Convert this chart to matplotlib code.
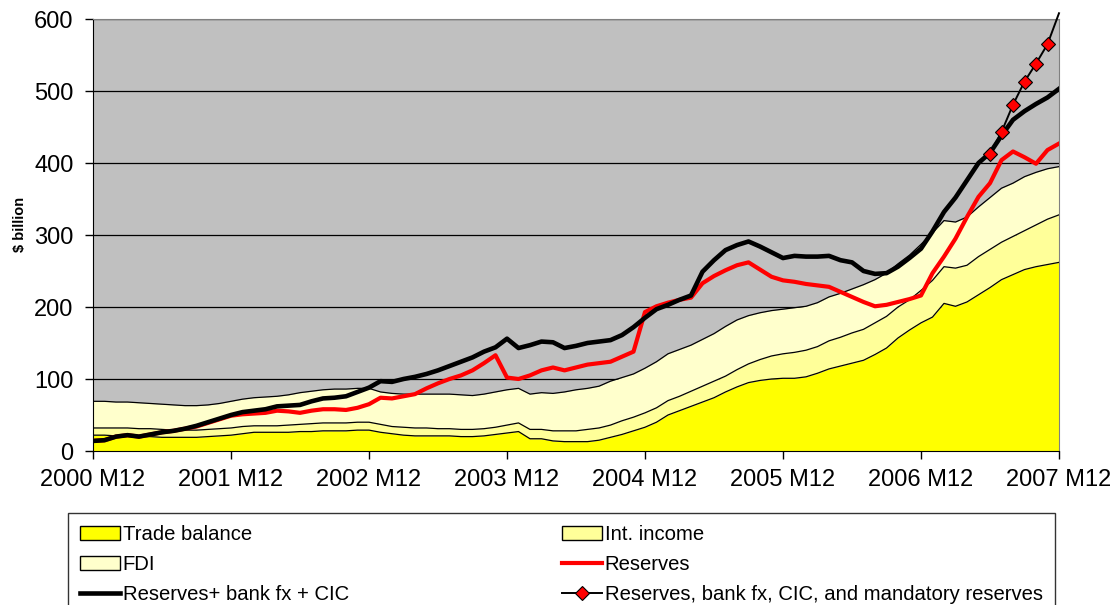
import numpy as np
import matplotlib
matplotlib.use('Agg')
import matplotlib.pyplot as plt
from matplotlib.patches import Patch
from matplotlib.lines import Line2D

plt.rcParams['font.family'] = ['Liberation Sans', 'DejaVu Sans']

# Monthly data, 2000 M12 .. 2007 M12 ($ billion, 12-month flows)
tick_labels = ['2000 M12', '2001 M12', '2002 M12', '2003 M12',
               '2004 M12', '2005 M12', '2006 M12', '2007 M12']

trade_balance = [22, 22, 21, 21, 20, 20, 19, 19, 19, 19, 20, 21,
                 22, 24, 26, 26, 26, 26, 27, 27, 28, 28, 28, 29,
                 29, 26, 24, 22, 21, 21, 21, 21, 20, 20, 21, 23,
                 25, 27, 17, 17, 14, 13, 13, 13, 15, 19, 23, 28,
                 33, 40, 50, 56, 62, 68, 74, 82, 89, 95, 98, 100,
                 101, 101, 103, 108, 114, 118, 122, 126, 134, 143, 157, 168,
                 178, 186, 205, 201, 207, 217, 227, 238, 245, 252, 256, 259,
                 262]

int_income = [10, 10, 11, 11, 11, 11, 11, 10, 10, 10, 10, 10,
              10, 10, 9, 9, 9, 10, 10, 11, 11, 11, 11, 11,
              11, 11, 10, 11, 11, 11, 10, 10, 10, 10, 10, 10,
              11, 12, 13, 13, 14, 15, 15, 17, 17, 17, 19, 19,
              20, 20, 20, 20, 21, 22, 23, 22, 24, 26, 29, 32,
              34, 36, 37, 37, 39, 40, 42, 43, 44, 44, 43, 42,
              45, 51, 51, 53, 51, 53, 53, 52, 53, 54, 58, 63,
              66]

fdi = [37, 37, 36, 36, 36, 35, 35, 35, 34, 34, 34, 35,
       37, 38, 39, 40, 41, 42, 44, 45, 46, 47, 47, 47,
       47, 45, 46, 46, 47, 47, 48, 48, 48, 47, 48, 49,
       49, 48, 49, 51, 52, 54, 57, 57, 58, 61, 60, 60,
       62, 64, 65, 65, 64, 65, 66, 69, 69, 67, 65, 63,
       62, 62, 61, 61, 61, 61, 61, 62, 60, 60, 60, 62,
       64, 66, 64, 64, 67, 69, 72, 75, 74, 75, 73, 70,
       67]

reserves = [14, 15, 20, 22, 20, 23, 26, 28, 31, 34, 39, 44,
            49, 51, 52, 53, 56, 55, 53, 56, 58, 58, 57, 60,
            65, 74, 73, 76, 79, 87, 94, 100, 105, 112, 122, 133,
            102, 100, 105, 112, 116, 112, 116, 120, 122, 124, 131, 138,
            193, 201, 206, 210, 213, 233, 243, 251, 258, 262, 252, 242,
            237, 235, 232, 230, 228, 221, 214, 207, 201, 203, 207, 211,
            216, 247, 270, 295, 325, 353, 372, 404, 416, 408, 399, 418,
            427]

reserves_bank_cic = [14, 15, 20, 22, 20, 23, 26, 28, 31, 35, 40, 45,
                     50, 54, 56, 58, 62, 63, 64, 69, 73, 74, 76, 82,
                     88, 97, 96, 100, 103, 107, 112, 118, 124, 130, 138, 144,
                     156, 143, 147, 152, 151, 143, 146, 150, 152, 154, 161, 172,
                     185, 197, 203, 210, 216, 249, 265, 279, 286, 291, 284, 276,
                     268, 271, 270, 270, 271, 265, 262, 250, 246, 247, 256, 268,
                     281, 305, 332, 352, 376, 400, 414, 438, 460, 472, 482, 491,
                     503]

# only reported from 2006 M6 onward
mandatory_start = 78
reserves_all = [413, 443, 481, 513, 538, 565, 608]

x = np.arange(len(trade_balance))
tb = np.array(trade_balance)
ii_top = tb + np.array(int_income)
fdi_top = ii_top + np.array(fdi)

fig = plt.figure(figsize=(11.17, 6.05), dpi=100)
ax = fig.add_axes([93 / 1117, 1 - 451 / 605, 966 / 1117, 432 / 605])
ax.set_facecolor('#C0C0C0')

# stacked areas
ax.fill_between(x, 0, tb, color='#FFFF00', lw=0, zorder=2)
ax.fill_between(x, tb, ii_top, color='#FFFF99', lw=0, zorder=2)
ax.fill_between(x, ii_top, fdi_top, color='#FFFFCC', lw=0, zorder=2)
for top in (tb, ii_top, fdi_top):
    ax.plot(x, top, color='black', lw=0.9, zorder=3)

ax.plot(x, reserves, color='#FF0000', lw=3, zorder=4, solid_joinstyle='round')
ax.plot(x, reserves_bank_cic, color='black', lw=3.3, zorder=5, solid_joinstyle='round')

xm = np.arange(mandatory_start, mandatory_start + len(reserves_all))
show_marker = [v <= 600 for v in reserves_all]
ax.plot(xm, reserves_all, color='black', lw=1.4, marker='D', ms=7,
        mfc='#FF0000', mec='black', mew=0.8, markevery=show_marker,
        zorder=6, clip_on=False)

ax.set_xlim(0, 84)
ax.set_ylim(0, 600)
ax.set_xticks(np.arange(0, 85, 12))
ax.set_xticklabels(tick_labels)
ax.set_yticks(np.arange(0, 601, 100))
ax.yaxis.grid(True, color='black', lw=0.9)
ax.set_axisbelow(True)
ax.tick_params(axis='both', direction='out', length=6, width=1, labelsize=17, color='black')
ax.tick_params(axis='x', pad=7)
ax.tick_params(axis='y', pad=8)
for s in ('top', 'right'):
    ax.spines[s].set_color('#808080')
for s in ('left', 'bottom'):
    ax.spines[s].set_color('black')
ax.set_ylabel('$ billion', fontsize=10.5, fontweight='bold')
ax.yaxis.set_label_coords(-0.068, 0.525)

handles = [
    Patch(facecolor='#FFFF00', edgecolor='black', label='Trade balance'),
    Patch(facecolor='#FFFFCC', edgecolor='black', label='FDI'),
    Line2D([], [], color='black', lw=3.3, label='Reserves+ bank fx + CIC'),
    Patch(facecolor='#FFFF99', edgecolor='black', label='Int. income'),
    Line2D([], [], color='#FF0000', lw=3, label='Reserves'),
    Line2D([], [], color='black', lw=1.4, marker='D', ms=7, mfc='#FF0000',
           mec='black', mew=0.8, label='Reserves, bank fx, CIC, and mandatory reserves'),
]
leg = fig.legend(handles=handles, ncol=2, loc='upper left',
                 bbox_to_anchor=(68 / 1117, 1 - 513 / 605, 987 / 1117, 0),
                 mode='expand', fontsize=14.6, frameon=True, fancybox=False,
                 edgecolor='black', borderaxespad=0, handlelength=1.95,
                 handletextpad=0.15, labelspacing=0.55, borderpad=0.6)
leg.get_frame().set_linewidth(1)

fig.savefig('out.png', dpi=100)
